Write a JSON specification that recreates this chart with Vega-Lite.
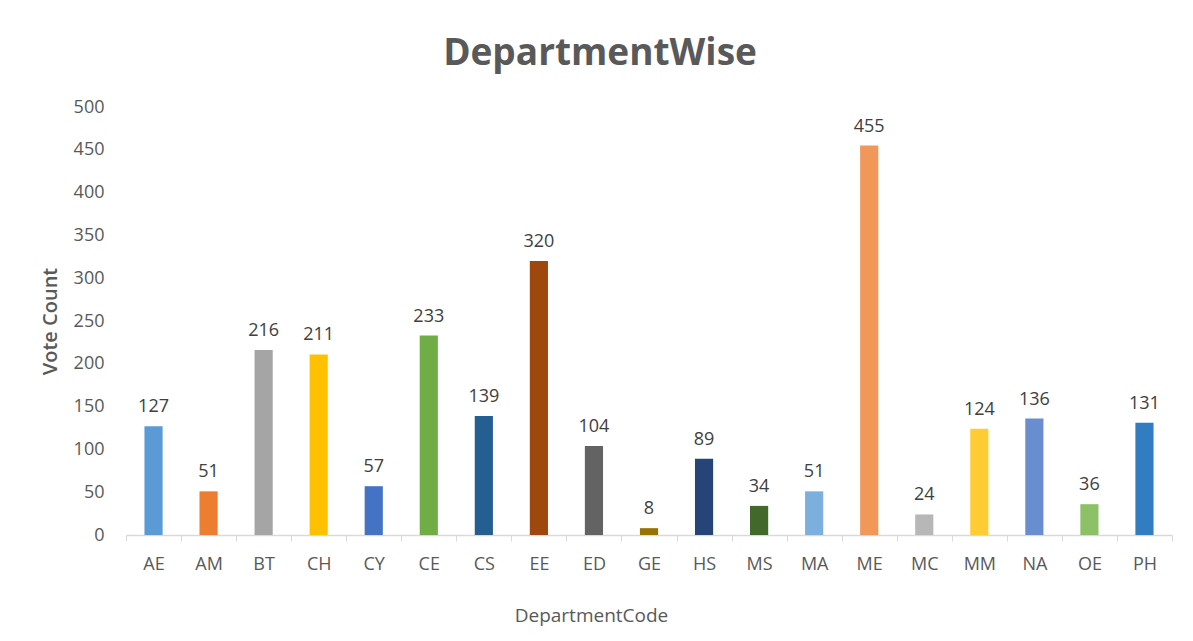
{
  "$schema": "https://vega.github.io/schema/vega-lite/v6.json",
  "width": 1046,
  "height": 428,
  "autosize": {"type": "none"},
  "padding": {"left": 126, "top": 107, "right": 21, "bottom": 106},
  "background": "white",
  "title": {
    "text": "DepartmentWise",
    "anchor": "middle",
    "frame": "group",
    "dx": -49,
    "offset": 25,
    "fontSize": 37,
    "fontWeight": "bold",
    "font": "Open Sans",
    "color": "#595959"
  },
  "config": {
    "view": {"stroke": null},
    "font": "Open Sans"
  },
  "data": {
    "values": [
      {"DepartmentCode": "AE", "VoteCount": 127},
      {"DepartmentCode": "AM", "VoteCount": 51},
      {"DepartmentCode": "BT", "VoteCount": 216},
      {"DepartmentCode": "CH", "VoteCount": 211},
      {"DepartmentCode": "CY", "VoteCount": 57},
      {"DepartmentCode": "CE", "VoteCount": 233},
      {"DepartmentCode": "CS", "VoteCount": 139},
      {"DepartmentCode": "EE", "VoteCount": 320},
      {"DepartmentCode": "ED", "VoteCount": 104},
      {"DepartmentCode": "GE", "VoteCount": 8},
      {"DepartmentCode": "HS", "VoteCount": 89},
      {"DepartmentCode": "MS", "VoteCount": 34},
      {"DepartmentCode": "MA", "VoteCount": 51},
      {"DepartmentCode": "ME", "VoteCount": 455},
      {"DepartmentCode": "MC", "VoteCount": 24},
      {"DepartmentCode": "MM", "VoteCount": 124},
      {"DepartmentCode": "NA", "VoteCount": 136},
      {"DepartmentCode": "OE", "VoteCount": 36},
      {"DepartmentCode": "PH", "VoteCount": 131}
    ]
  },
  "encoding": {
    "x": {
      "field": "DepartmentCode",
      "type": "nominal",
      "sort": null,
      "scale": {"paddingInner": 0, "paddingOuter": 0},
      "axis": {
        "title": "DepartmentCode",
        "titleFont": "Open Sans",
        "titleFontSize": 19,
        "titleFontWeight": "normal",
        "titleColor": "#595959",
        "titleX": 465,
        "titleY": 80,
        "titleAlign": "center",
        "titleBaseline": "middle",
        "labelAngle": 0,
        "labelFontSize": 18,
        "labelColor": "#595959",
        "labelPadding": 14,
        "tickBand": "extent",
        "tickSize": 6,
        "tickColor": "#d9d9d9",
        "domainColor": "#d9d9d9",
        "domainWidth": 1.5,
        "grid": false
      }
    },
    "y": {
      "field": "VoteCount",
      "type": "quantitative",
      "scale": {"domain": [0, 500], "nice": false},
      "axis": {
        "title": "Vote Count",
        "titleFont": "Open Sans",
        "titleFontSize": 20,
        "titleFontWeight": 600,
        "titleColor": "#595959",
        "titleAngle": -90,
        "titleX": -76,
        "titleY": 214,
        "titleAlign": "center",
        "titleBaseline": "middle",
        "values": [0, 50, 100, 150, 200, 250, 300, 350, 400, 450, 500],
        "labelFontSize": 18,
        "labelColor": "#595959",
        "labelPadding": 22,
        "domain": false,
        "ticks": false,
        "grid": false
      }
    }
  },
  "layer": [
    {
      "mark": {"type": "bar", "width": {"band": 0.33}},
      "encoding": {
        "color": {
          "field": "DepartmentCode",
          "type": "nominal",
          "legend": null,
          "scale": {
            "domain": ["AE","AM","BT","CH","CY","CE","CS","EE","ED","GE","HS","MS","MA","ME","MC","MM","NA","OE","PH"],
            "range": ["#5B9BD5","#ED7D31","#A5A5A5","#FFC000","#4472C4","#70AD47","#255E91","#9E480E","#636363","#997300","#264478","#43682B","#7CAFDD","#F1975A","#B7B7B7","#FFCD33","#698ED0","#8CC168","#327DC2"]
          }
        }
      }
    },
    {
      "mark": {"type": "text", "baseline": "alphabetic", "dy": -14, "fontSize": 18, "color": "#404040", "font": "Open Sans"},
      "encoding": {
        "text": {"field": "VoteCount", "type": "quantitative"}
      }
    }
  ]
}
